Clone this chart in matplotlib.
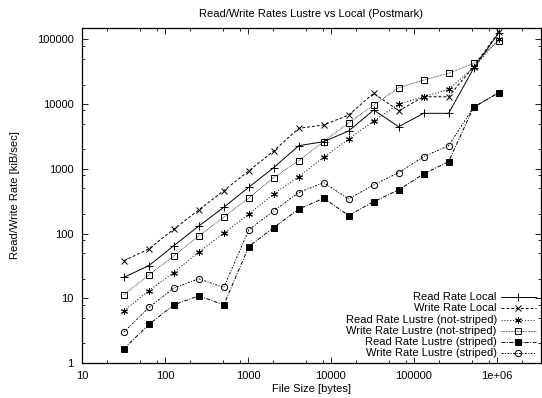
import matplotlib

matplotlib.use("Agg")
import matplotlib.pyplot as plt
from matplotlib.ticker import FixedLocator, FixedFormatter, LogLocator, NullFormatter

plt.rcParams["font.family"] = ["Liberation Sans", "DejaVu Sans"]
plt.rcParams["font.size"] = 8

# file sizes [bytes]
sizes = [32, 64, 128, 256, 512, 1024, 2048, 4096, 8192, 16384, 32768,
         65536, 131072, 262144, 524288, 1048576]

# rates [kiB/sec]
read_local = [21, 32, 65, 131, 255, 520, 1045, 2280, 2630, 3850, 8110,
              4480, 7210, 7210, 35600, 125000]
write_local = [38, 58, 117, 232, 461, 929, 1890, 4230, 4760, 6790, 14700,
               7910, 13000, 13000, 38000, 128000]
read_lustre_ns = [6.4, 13.1, 25, 52, 101, 199, 410, 758, 1510, 2890, 5490,
                  10000, 13000, 16900, 37000, 100000]
write_lustre_ns = [11.3, 23, 45, 92, 179, 356, 731, 1340, 2630, 5160, 9690,
                   17900, 23500, 29900, 42600, 95000]
read_lustre_st = [1.66, 3.94, 7.9, 10.9, 7.9, 63, 124, 238, 352, 190, 312,
                  472, 834, 1290, 8930, 15000]
write_lustre_st = [3.0, 7.2, 14.4, 20, 14.7, 114, 224, 430, 612, 343, 565,
                   874, 1540, 2280, 8930, 15000]

xtick_vals = [10, 100, 1000, 10000, 100000, 1000000]
xtick_labels = ["10", "100", "1000", "10000", "100000", "1e+06"]
ytick_vals = [1, 10, 100, 1000, 10000, 100000]
ytick_labels = ["1", "10", "100", "1000", "10000", "100000"]

series = [
    ("Read Rate Local", read_local, dict(linestyle="-", marker="+", ms=5.5)),
    ("Write Rate Local", write_local, dict(dashes=(3, 2), marker="x", ms=4.5)),
    ("Read Rate Lustre (not-striped)", read_lustre_ns,
     dict(dashes=(1, 2), marker=(6, 2, 0), ms=5)),
    ("Write Rate Lustre (not-striped)", write_lustre_ns,
     dict(dashes=(0.6, 1), marker="s", ms=4.5, mfc="none")),
    ("Read Rate Lustre (striped)", read_lustre_st,
     dict(dashes=(4, 1.5, 1, 1.5), marker="s", ms=5, mfc="black")),
    ("Write Rate Lustre (striped)", write_lustre_st,
     dict(dashes=(2, 1.5, 1, 1.5), marker="o", ms=4.5, mfc="none")),
]

fig = plt.figure(figsize=(5.42, 3.98), dpi=100)
ax = fig.add_axes([0.1513, 0.088, 0.998 - 0.1513, 0.9296 - 0.088])

# gnuplot-style key: right-aligned text, sample line to its right
key_top, key_step = 0.196, 0.0332
for i, (label, vals, style) in enumerate(series):
    ax.plot(sizes, vals, color="black", linewidth=0.7, mew=0.7,
            mec="black", **style)
    ky = key_top - i * key_step
    ax.text(0.904, ky, label, transform=ax.transAxes, ha="right", va="center",
            fontsize=8)
    ax.plot([0.913, 0.989], [ky, ky], transform=ax.transAxes, color="black",
            linewidth=0.7, mew=0.7, mec="black", markevery=[], **style)
    ax.plot([0.951], [ky], transform=ax.transAxes, color="black",
            linewidth=0, mew=0.7, mec="black",
            **{k: v for k, v in style.items() if k in ("marker", "ms", "mfc")})

ax.set_xscale("log")
ax.set_yscale("log")
ax.set_xlim(10, 3.4e6)
ax.set_ylim(1, 150000)

ax.xaxis.set_major_locator(FixedLocator(xtick_vals))
ax.xaxis.set_major_formatter(FixedFormatter(xtick_labels))
ax.yaxis.set_major_locator(FixedLocator(ytick_vals))
ax.yaxis.set_major_formatter(FixedFormatter(ytick_labels))
for axis in (ax.xaxis, ax.yaxis):
    axis.set_minor_locator(LogLocator(base=10, subs=(2, 5, 8)))
    axis.set_minor_formatter(NullFormatter())

ax.tick_params(which="both", direction="in", top=True, right=True, width=0.6,
               labelsize=8, pad=6)
ax.tick_params(which="major", length=4)
ax.tick_params(which="minor", length=2)
for sp in ax.spines.values():
    sp.set_linewidth(0.9)

ax.set_title("Read/Write Rates Lustre vs Local (Postmark)", fontsize=8, pad=8)
ax.set_xlabel("File Size [bytes]", fontsize=8, labelpad=2)
ax.set_ylabel("Read/Write Rate [kiB/sec]", fontsize=8, labelpad=12)

fig.savefig("out.png", dpi=100)
